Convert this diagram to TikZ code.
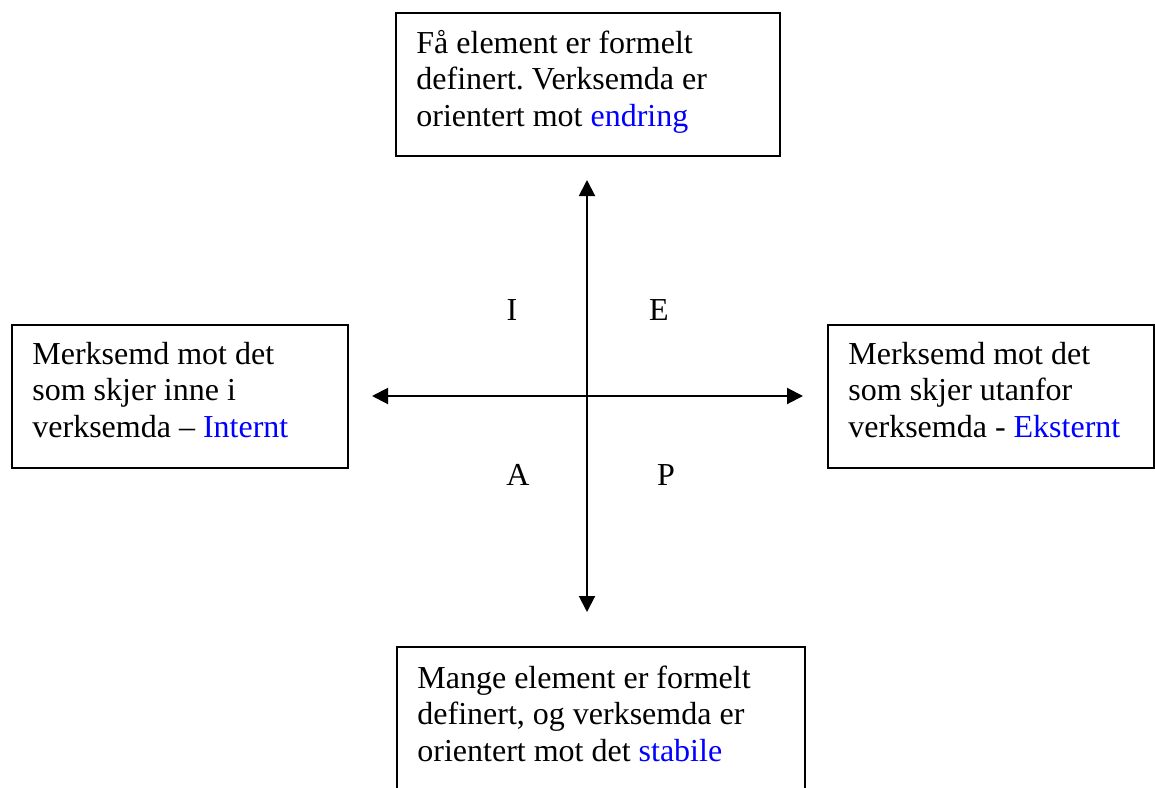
\documentclass[tikz,border=0pt]{standalone}
\usepackage{fontspec}
\setmainfont{Liberation Serif}
\usetikzlibrary{arrows.meta}
\definecolor{hl}{RGB}{0,0,255}
\frenchspacing
\begin{document}
\begin{tikzpicture}[x=0.5pt,y=-0.5pt,
  frame/.style={draw=black,line width=1pt,inner sep=0pt,anchor=north west},
  txt/.style={inner sep=0pt,anchor=base west,font=\fontsize{16pt}{18.4pt}\selectfont},
  quad/.style={inner sep=0pt,anchor=base,font=\fontsize{16pt}{18.4pt}\selectfont},
  axis/.style={line width=1pt,{Triangle[length=8pt,width=8pt]}-{Triangle[length=8pt,width=8pt]}}
]
\useasboundingbox (0,0) rectangle (1155,787);
% boxes
\node[frame,minimum width=192pt,minimum height=71.5pt] (topbox) at (395,12) {};
\node[frame,minimum width=168pt,minimum height=71.5pt] (leftbox) at (11,324) {};
\node[frame,minimum width=163pt,minimum height=71.5pt] (rightbox) at (827,324) {};
\node[frame,minimum width=204pt,minimum height=74pt] (botbox) at (396,646) {};
% texts
\node[txt] (toptext) at (416,53) {\begin{tabular}[t]{@{}l@{}}Få element er formelt\\definert. Verksemda er\\orientert mot \textcolor{hl}{endring}\end{tabular}};
\node[txt] (lefttext) at (32,364) {\begin{tabular}[t]{@{}l@{}}Merksemd mot det\\som skjer inne i\\verksemda -- \textcolor{hl}{Internt}\end{tabular}};
\node[txt] (righttext) at (848,364) {\begin{tabular}[t]{@{}l@{}}Merksemd mot det\\som skjer utanfor\\verksemda - \textcolor{hl}{Eksternt}\end{tabular}};
\node[txt] (bottext) at (417,688) {\begin{tabular}[t]{@{}l@{}}Mange element er formelt\\definert, og verksemda er\\orientert mot det \textcolor{hl}{stabile}\end{tabular}};
% quadrant letters
\node[quad] (qI) at (512,320) {I};
\node[quad] (qE) at (659,320) {E};
\node[quad] (qA) at (518,485) {A};
\node[quad] (qP) at (666,485) {P};
% axes
\coordinate (vtop) at (587,180);
\coordinate (vbot) at (587,612);
\coordinate (hleft) at (372,396);
\coordinate (hright) at (803,396);
\draw[axis] (vbot) -- (vtop);
\draw[axis] (hleft) -- (hright);
\end{tikzpicture}
\end{document}
